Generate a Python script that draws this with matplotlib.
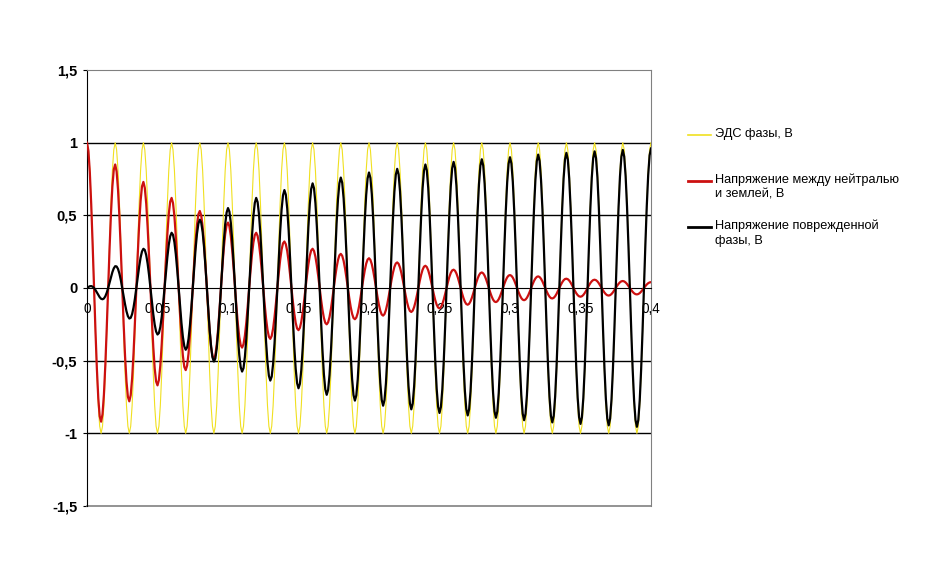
import matplotlib.pyplot as plt
import numpy as np
from matplotlib.lines import Line2D

# peak readings every half period (0.01 s), absolute values
t_peaks = [0.00, 0.01, 0.02, 0.03, 0.04, 0.05, 0.06, 0.07, 0.08, 0.09,
           0.10, 0.11, 0.12, 0.13, 0.14, 0.15, 0.16, 0.17, 0.18, 0.19,
           0.20, 0.21, 0.22, 0.23, 0.24, 0.25, 0.26, 0.27, 0.28, 0.29,
           0.30, 0.31, 0.32, 0.33, 0.34, 0.35, 0.36, 0.37, 0.38, 0.39, 0.40]
emf_peaks = [1.0] * 41
neutral_peaks = [1.00, 0.92, 0.85, 0.78, 0.73, 0.67, 0.62, 0.565, 0.53, 0.49,
                 0.45, 0.41, 0.38, 0.35, 0.32, 0.29, 0.27, 0.25, 0.235, 0.215,
                 0.205, 0.19, 0.176, 0.165, 0.153, 0.14, 0.126, 0.115, 0.107, 0.097,
                 0.089, 0.084, 0.08, 0.072, 0.064, 0.06, 0.057, 0.052, 0.048, 0.044, 0.04]
faulted_peaks = [0.0, 0.074, 0.15, 0.21, 0.27, 0.32, 0.38, 0.425, 0.47, 0.506,
                 0.55, 0.575, 0.62, 0.637, 0.674, 0.69, 0.72, 0.735, 0.76, 0.775,
                 0.795, 0.81, 0.82, 0.835, 0.85, 0.86, 0.868, 0.877, 0.886, 0.893,
                 0.90, 0.91, 0.918, 0.925, 0.93, 0.935, 0.94, 0.945, 0.95, 0.955, 0.96]
freq = 50  # Hz

x_ticks = [0, 0.05, 0.1, 0.15, 0.2, 0.25, 0.3, 0.35, 0.4]
x_labels = ['0', '0,05', '0,1', '0,15', '0,2', '0,25', '0,3', '0,35', '0,4']
y_ticks = [-1.5, -1, -0.5, 0, 0.5, 1, 1.5]
y_labels = ['-1,5', '-1', '-0,5', '0', '0,5', '1', '1,5']

labels = ['ЭДС фазы, В',
          'Напряжение между нейтралью\nи землей, В',
          'Напряжение поврежденной\nфазы, В']
colors = ['#F0E020', '#CC1010', '#000000']
widths = [0.8, 1.6, 1.6]

t = np.arange(0, 0.4 + 1e-9, 0.001)
wave = np.cos(2 * np.pi * freq * t)
series = [np.interp(t, t_peaks, p) * wave
          for p in (emf_peaks, neutral_peaks, faulted_peaks)]

plt.rcParams['font.family'] = ['Liberation Sans', 'DejaVu Sans']

fig = plt.figure(figsize=(9.36, 5.81), dpi=100)
ax = fig.add_axes([87 / 936, 1 - 506 / 581, 564 / 936, 436 / 581])

for y in [-1, -0.5, 0.5, 1]:
    ax.axhline(y, color='black', lw=1, zorder=1)

for s, c, w in zip(series, colors, widths):
    ax.plot(t, s, color=c, lw=w, zorder=3)

ax.set_xlim(0, 0.4)
ax.set_ylim(-1.5, 1.5)

ax.spines['bottom'].set_position(('data', 0))
ax.spines['bottom'].set_color('black')
ax.spines['left'].set_color('black')
ax.spines['top'].set_color('#808080')
ax.spines['right'].set_color('#808080')
ax.axhline(-1.5, color='#808080', lw=1.2, clip_on=False)

ax.set_xticks(x_ticks)
ax.set_xticklabels(x_labels, fontsize=9.8)
ax.tick_params(axis='x', length=0, pad=10)
ax.set_yticks(y_ticks)
ax.set_yticklabels(y_labels, fontsize=10.5, fontweight='bold')
ax.tick_params(axis='y', length=3, pad=4)

# legend drawn by hand to match the layout
leg_rows = [135, 181, 227]
for lab, c, w, yp in zip(labels, colors, widths, leg_rows):
    yf = 1 - yp / 581
    fig.add_artist(Line2D([688 / 936, 711 / 936], [yf, yf], color=c, lw=w + 0.4))
    fig.text(715 / 936, 1 - (yp - 7) / 581, lab, fontsize=9.2, va='top', ha='left',
             linespacing=1.25)

fig.savefig('out.png', dpi=100)
